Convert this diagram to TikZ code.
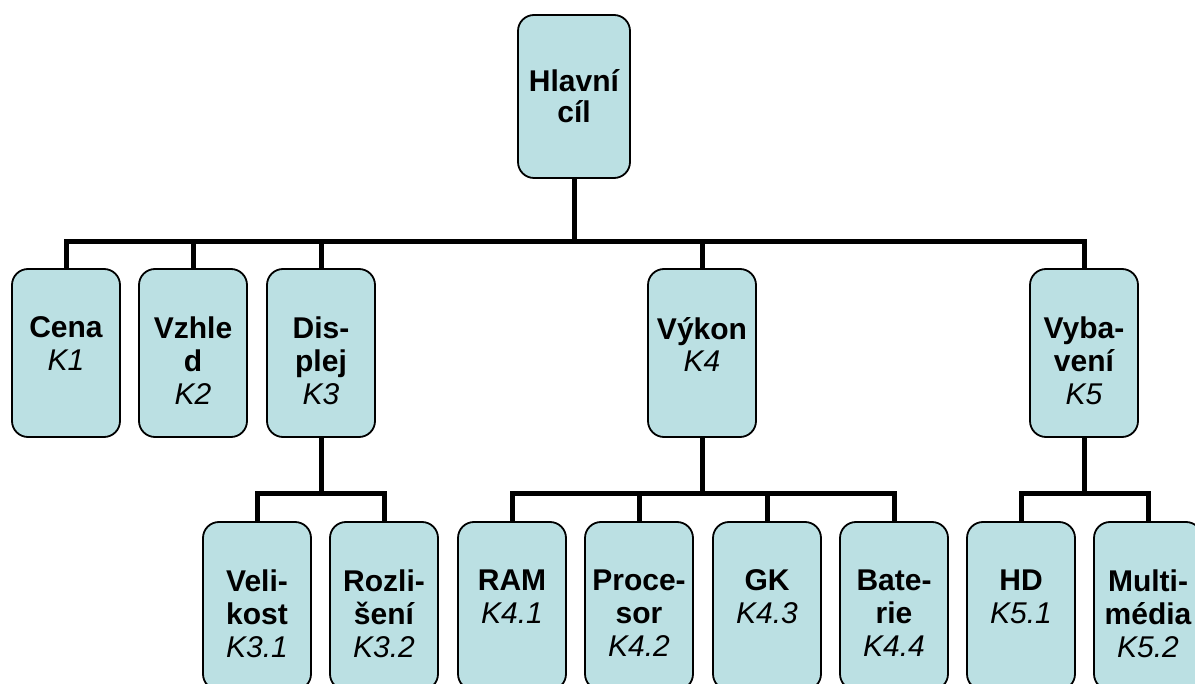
\documentclass[tikz,border=0pt]{standalone}
\usepackage{fontspec}
\setmainfont{Liberation Sans}
\usetikzlibrary{backgrounds}
\definecolor{boxfill}{HTML}{BBE0E3}
\newlength{\txtoff}
\setlength{\txtoff}{48pt}
\newcommand{\bt}[2]{\parbox[c][168pt][t]{108pt}{\centering\vspace*{\txtoff}\fontsize{30}{33}\selectfont\bfseries #1\\\mdseries\itshape #2\par}}
\tikzset{
  box/.style={draw=black, line width=1.8pt, fill=boxfill, rounded corners=16pt,
    inner sep=0pt, minimum width=108pt, minimum height=168pt, anchor=center},
  conn/.style={line width=5pt, draw=black},
}
\begin{document}
\begin{tikzpicture}[x=1pt,y=-1pt]
\useasboundingbox (0,0) rectangle (1195,684);
\clip (0,0) rectangle (1195,684);
% top
\node[box, minimum width=112pt, minimum height=163pt] (top) at (574,96.5)
  {\parbox[c][163pt][c]{112pt}{\centering\fontsize{30}{31}\selectfont\bfseries Hlavní\\cíl\par}};
% row 2
\node[box] (cena) at (66,353) {\bt{Cena}{K1}};
\node[box] (vzhled) at (193,353) {\bt{Vzhle\\d}{K2}};
\node[box] (displej) at (321,353) {\bt{Dis-\\plej}{K3}};
\node[box] (vykon) at (702,353) {\bt{Výkon}{K4}};
\node[box] (vybav) at (1084,353) {\bt{Vyba-\\vení}{K5}};
% row 3
\node[box] (velikost) at (257,606) {\bt{Veli-\\kost}{K3.1}};
\node[box] (rozliseni) at (384,606) {\bt{Rozli-\\šení}{K3.2}};
\node[box] (ram) at (512,606) {\bt{RAM}{K4.1}};
\node[box] (procesor) at (639,606) {\bt{Proce-\\sor}{K4.2}};
\node[box] (gk) at (767,606) {\bt{GK}{K4.3}};
\node[box] (baterie) at (894,606) {\bt{Bate-\\rie}{K4.4}};
\node[box] (hd) at (1021,606) {\bt{HD}{K5.1}};
\node[box] (multi) at (1148,606) {\bt{Multi-\\média}{K5.2}};
\begin{scope}[on background layer]
\foreach \c in {cena,vzhled,displej,vykon,vybav}
  \draw[conn] (top.south) -- ++(0,63) -| (\c.north);
\foreach \c in {velikost,rozliseni}
  \draw[conn] (displej.south) -- ++(0,56) -| (\c.north);
\foreach \c in {ram,procesor,gk,baterie}
  \draw[conn] (vykon.south) -- ++(0,56) -| (\c.north);
\foreach \c in {hd,multi}
  \draw[conn] (vybav.south) -- ++(0,56) -| (\c.north);
\end{scope}
\end{tikzpicture}
\end{document}
